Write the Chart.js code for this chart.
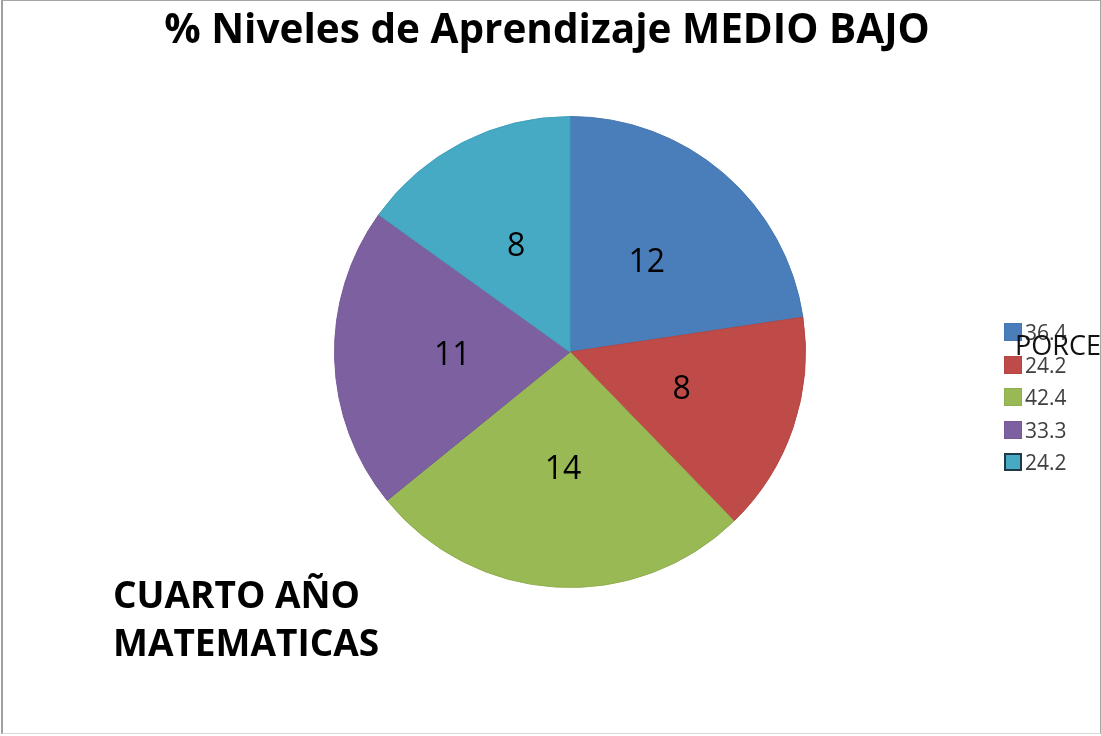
<!DOCTYPE html>
<html lang="es">
<head>
  <meta charset="UTF-8" />
  <title>% Niveles de Aprendizaje MEDIO BAJO</title>
  <script src="https://cdn.jsdelivr.net/npm/chart.js"></script>
  <style>
    body {
      margin: 0;
      background: #fff;
      font-family: "Open Sans", Arial, sans-serif;
    }

    .frame {
      position: relative;
      width: 1101px;
      height: 736px;
      overflow: hidden;
      background: #fff;
    }

    .frame .edge {
      position: absolute;
      left: 1px;
      top: 0;
      width: 1097px;
      height: 732px;
      border: 1px solid #a6a6a6;
      border-left: 2px solid #a0a0a0;
      border-bottom-color: #d9d9d9;
      pointer-events: none;
    }

    #chart {
      position: absolute;
      left: 0;
      top: 0;
    }

    .titulo {
      position: absolute;
      left: 0;
      width: 1094px;
      top: 0px;
      text-align: center;
      font-size: 40.5px;
      font-weight: bold;
      color: #000;
    }

    .nota {
      position: absolute;
      left: 113px;
      top: 570px;
      font-size: 37px;
      font-weight: bold;
      line-height: 48px;
      color: #000;
    }

    .leyenda {
      position: absolute;
      left: 1004px;
      top: 323px;
      font-size: 21px;
      color: #404040;
    }

    .leyenda div {
      height: 32.5px;
      display: flex;
      align-items: center;
      line-height: 18px;
      height: 32.5px;
    }

    .leyenda div {
      align-items: flex-start;
    }

    .leyenda span.caja {
      display: inline-block;
      width: 18px;
      height: 18px;
      margin-right: 3px;
      box-sizing: border-box;
    }

    .serie {
      position: absolute;
      left: 1015px;
      top: 326px;
      font-size: 27px;
      color: #111;
      white-space: nowrap;
    }
  </style>
</head>
<body>

<div class="frame">
  <canvas id="chart" width="1101" height="736"></canvas>
  <div class="titulo">% Niveles de Aprendizaje MEDIO BAJO</div>
  <div class="nota">CUARTO AÑO<br>MATEMATICAS</div>
  <div class="leyenda" id="leyenda"></div>
  <div class="serie">PORCENTAJE</div>
  <div class="edge"></div>
</div>

<script>
  // datos
  const cantidades = [12, 8, 14, 11, 8];
  const porcentajes = ['36.4', '24.2', '42.4', '33.3', '24.2'];
  const colores = ['#4A7EBB', '#BE4B48', '#98B954', '#7D60A0', '#46AAC5'];
  const bordes = ['#4577b0', '#b34643', '#8fae4f', '#765a97', '#42a0ba'];

  // leyenda a mano (a la derecha, como en Excel)
  const leyenda = document.getElementById('leyenda');
  porcentajes.forEach((p, i) => {
    const fila = document.createElement('div');
    const borde = i === porcentajes.length - 1 ? '2px solid #1f3a45' : '1px solid ' + bordes[i];
    fila.innerHTML = `<span class="caja" style="background:${colores[i]};border:${borde}"></span><span>${p}</span>`;
    leyenda.appendChild(fila);
  });

  // numeros dentro de cada porcion
  const etiquetas = {
    id: 'etiquetas',
    afterDatasetsDraw(chart) {
      const ctx = chart.ctx;
      const meta = chart.getDatasetMeta(0);
      ctx.save();
      ctx.font = '32px "Open Sans", Arial, sans-serif';
      ctx.fillStyle = '#000';
      ctx.textAlign = 'center';
      ctx.textBaseline = 'middle';
      meta.data.forEach((arc, i) => {
        const pos = arc.tooltipPosition();
        ctx.fillText(String(chart.data.datasets[0].data[i]), pos.x, pos.y);
      });
      ctx.restore();
    }
  };

  new Chart(document.getElementById('chart'), {
    type: 'pie',
    data: {
      labels: porcentajes,
      datasets: [{
        data: cantidades,
        backgroundColor: colores,
        borderColor: bordes,
        borderWidth: 1
      }]
    },
    options: {
      responsive: false,
      animation: false,
      layout: {
        padding: { left: 334, right: 295, top: 116, bottom: 148 }
      },
      plugins: {
        legend: { display: false },
        title: { display: false },
        tooltip: { enabled: false }
      }
    },
    plugins: [etiquetas]
  });
</script>

</body>
</html>
